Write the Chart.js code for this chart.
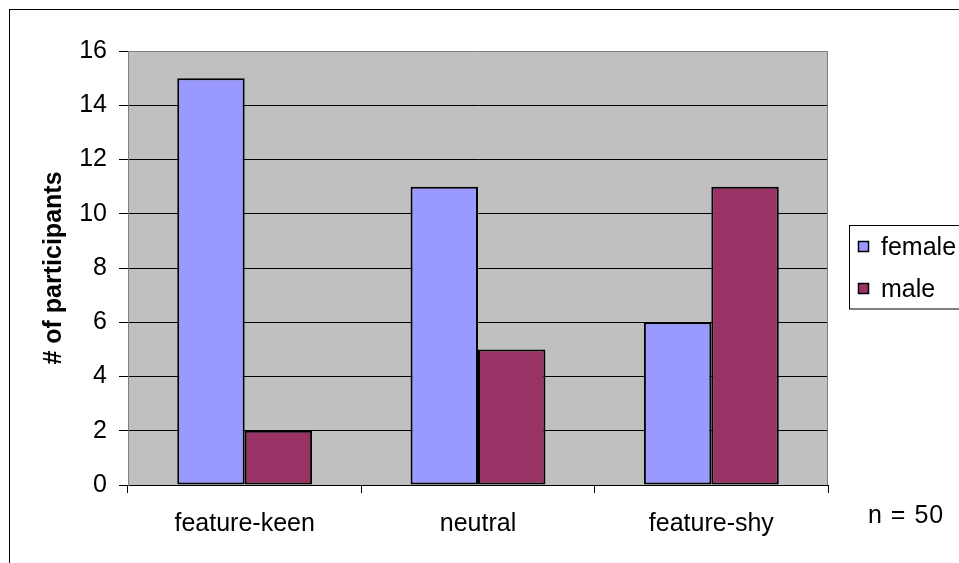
<!DOCTYPE html>
<html>
<head>
<meta charset="utf-8">
<script src="https://cdn.jsdelivr.net/npm/chart.js@4.4.1/dist/chart.umd.min.js"></script>
<style>
  html, body { margin: 0; padding: 0; background: #ffffff; }
  #wrap { position: relative; width: 959px; height: 563px; }
</style>
</head>
<body>
<div id="wrap"><canvas id="c"></canvas></div>
<script>
const categories = ["feature-keen", "neutral", "feature-shy"];
const seriesNames = ["female", "male"];
const femaleValues = [15, 11, 6];
const maleValues = [2, 5, 11];
const yTicks = [0, 2, 4, 6, 8, 10, 12, 14, 16];
const yAxisTitle = "# of participants";
const noteText = "n = 50";

const FONT = "'Liberation Sans', Arial, sans-serif";
const seriesColors = ["#9999FF", "#993366"];

const excelDecor = {
  id: 'excelDecor',
  beforeDraw(chart) {
    const ctx = chart.ctx;
    const a = chart.chartArea;
    ctx.save();
    ctx.fillStyle = '#ffffff';
    ctx.fillRect(0, 0, chart.width, chart.height);
    ctx.fillStyle = '#C0C0C0';
    ctx.fillRect(a.left, a.top, a.right - a.left, a.bottom - a.top);
    ctx.strokeStyle = '#000000';
    ctx.lineWidth = 1;
    ctx.strokeRect(9.5, 9.5, chart.width + 50, chart.height + 50);
    ctx.restore();
  },
  beforeDatasetsDraw(chart) {
    const ctx = chart.ctx;
    const a = chart.chartArea;
    ctx.save();
    ctx.strokeStyle = '#808080';
    ctx.lineWidth = 1;
    ctx.beginPath();
    ctx.moveTo(Math.round(a.right) - 0.5, a.top);
    ctx.lineTo(Math.round(a.right) - 0.5, a.bottom);
    ctx.stroke();
    ctx.restore();
  },
  afterDraw(chart) {
    const ctx = chart.ctx;
    ctx.save();
    ctx.fillStyle = '#ffffff';
    ctx.fillRect(849.5, 225.5, 200, 83.5);
    ctx.strokeStyle = '#000000';
    ctx.lineWidth = 1;
    ctx.strokeRect(849.5, 225.5, 200, 83.5);
    ctx.font = "25px " + FONT;
    ctx.textBaseline = 'alphabetic';
    ctx.textAlign = 'left';
    const rows = [255, 297];
    chart.data.datasets.forEach((ds, i) => {
      const base = rows[i];
      ctx.fillStyle = ds.backgroundColor;
      ctx.fillRect(858.5, base - 13.5, 10, 10);
      ctx.strokeStyle = '#000000';
      ctx.lineWidth = 1.5;
      ctx.strokeRect(858.5, base - 13.5, 10, 10);
      ctx.fillStyle = '#000000';
      ctx.fillText(ds.label, 881, base);
    });
    ctx.fillStyle = '#000000';
    ctx.letterSpacing = '1px';
    ctx.fillText(noteText, 868, 523);
    ctx.restore();
  }
};

new Chart(document.getElementById('c'), {
  type: 'bar',
  data: {
    labels: categories,
    datasets: [
      { label: seriesNames[0], data: femaleValues, backgroundColor: seriesColors[0], borderColor: '#000000', borderWidth: 2, borderSkipped: false },
      { label: seriesNames[1], data: maleValues, backgroundColor: seriesColors[1], borderColor: '#000000', borderWidth: 2, borderSkipped: false }
    ]
  },
  options: {
    responsive: true,
    maintainAspectRatio: false,
    devicePixelRatio: 1,
    animation: false,
    events: [],
    layout: { padding: { top: 51, right: 131, bottom: 0, left: 0 } },
    datasets: { bar: { categoryPercentage: 0.578, barPercentage: 1.0 } },
    plugins: {
      legend: { display: false },
      tooltip: { enabled: false }
    },
    scales: {
      x: {
        afterFit(scale) { scale.height = 78; },
        grid: { drawOnChartArea: false, drawTicks: true, tickLength: 8, color: '#000000', offset: true, lineWidth: 1 },
        border: { color: '#000000', width: 1 },
        ticks: { color: '#000000', font: { family: FONT, size: 25 }, padding: 16, maxRotation: 0, autoSkip: false }
      },
      y: {
        min: 0,
        max: 16,
        afterFit(scale) { scale.width = 128; },
        afterBuildTicks(scale) { scale.ticks = yTicks.map(v => ({ value: v })); },
        grid: {
          color: (c) => (c.tick && c.tick.value === 16) ? '#808080' : '#000000',
          tickColor: '#000000',
          tickLength: 9,
          lineWidth: 1
        },
        border: { color: '#808080', width: 1 },
        ticks: { color: '#000000', font: { family: FONT, size: 25 }, padding: 12 },
        title: {
          display: true,
          text: yAxisTitle,
          color: '#000000',
          font: { family: FONT, size: 25, weight: 'bold', lineHeight: 1.2 },
          padding: { top: 39, bottom: 0 }
        }
      }
    }
  },
  plugins: [excelDecor]
});
</script>
</body>
</html>
